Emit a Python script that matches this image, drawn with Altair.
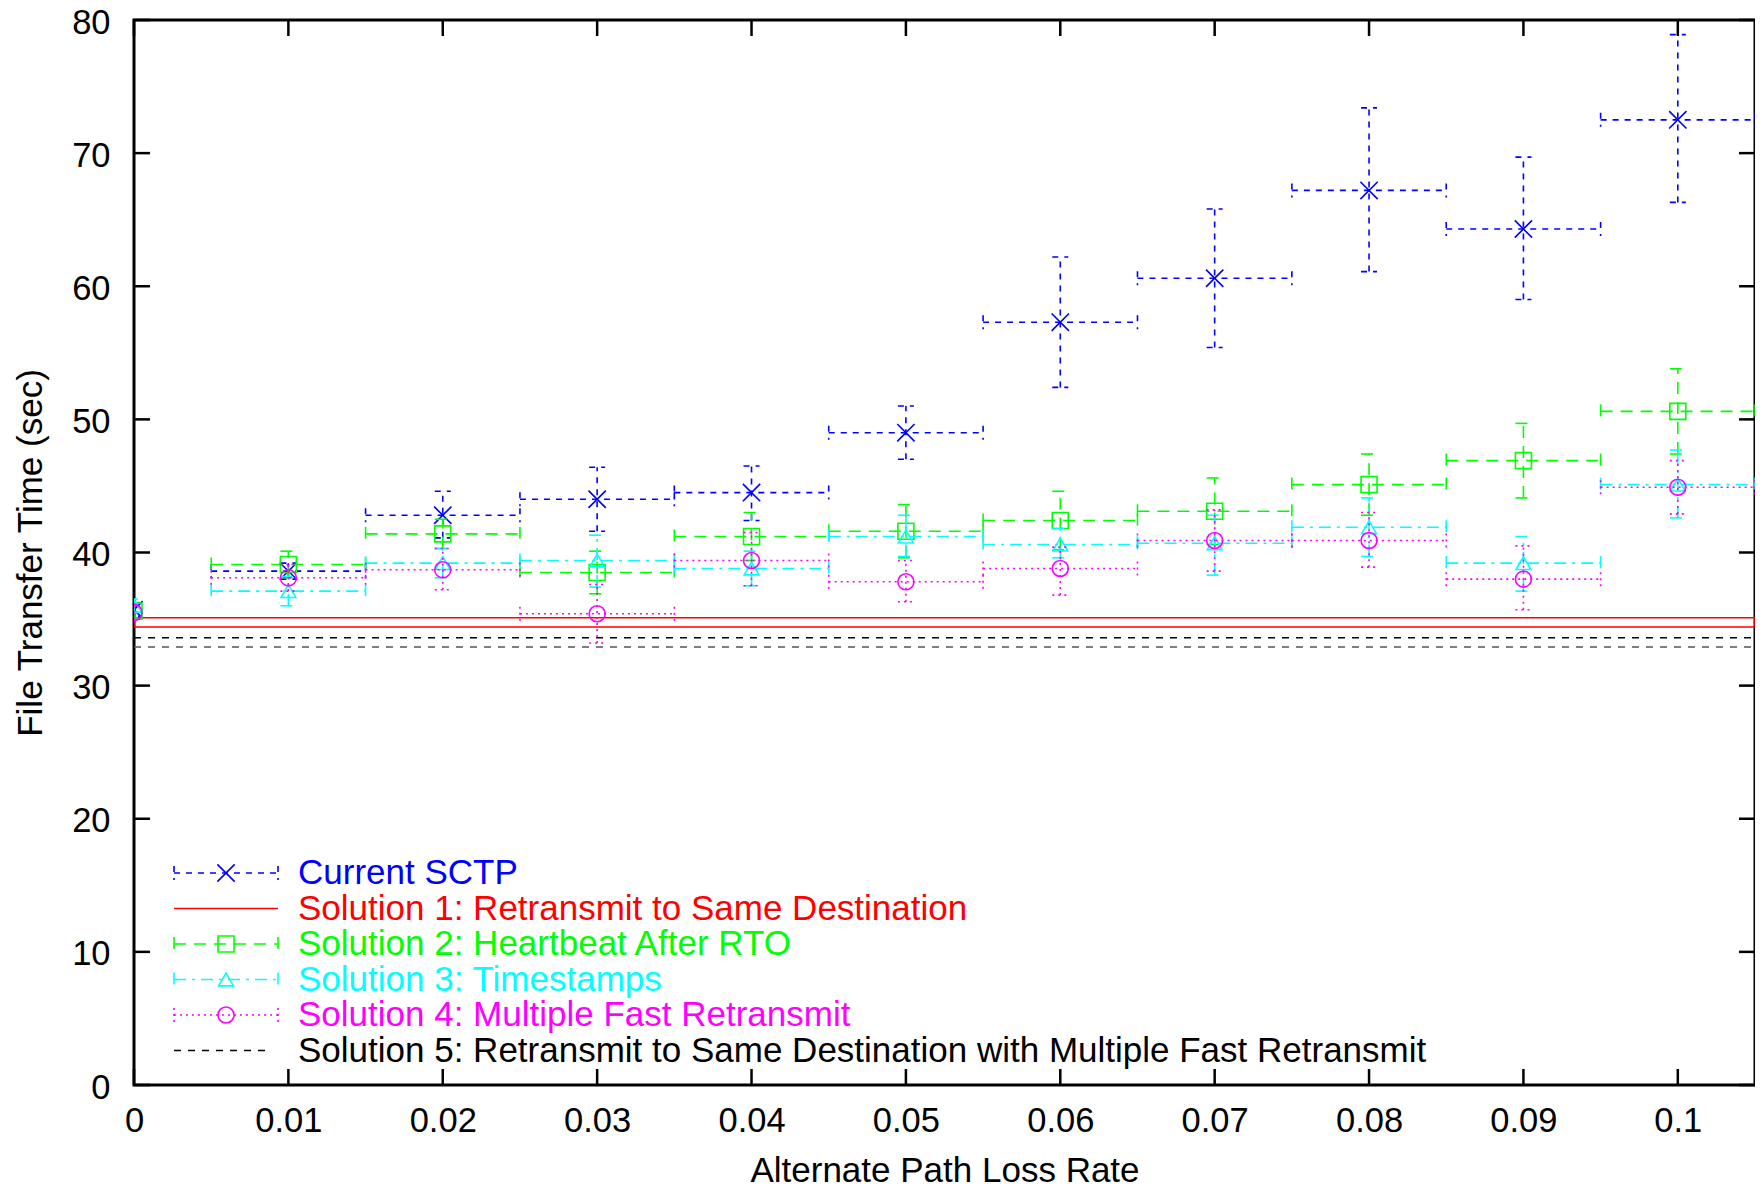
import altair as alt
import pandas as pd

# ---------------- data ----------------
loss_rate = [0.0, 0.01, 0.02, 0.03, 0.04, 0.05, 0.06, 0.07, 0.08, 0.09, 0.10]
x_half_width = 0.005

cur_y  = [35.7, 38.6, 42.8, 44.0, 44.5, 49.0, 57.3, 60.6, 67.2, 64.3, 72.5]
cur_lo = [35.2, 38.0, 41.1, 41.6, 42.4, 47.0, 52.4, 55.4, 61.1, 59.0, 66.3]
cur_hi = [36.2, 39.2, 44.6, 46.4, 46.5, 51.0, 62.2, 65.8, 73.4, 69.7, 78.9]

s2_y  = [35.6, 39.1, 41.4, 38.5, 41.2, 41.6, 42.4, 43.1, 45.1, 46.9, 50.6]
s2_lo = [35.1, 38.1, 40.3, 36.9, 39.4, 39.6, 40.2, 40.6, 42.8, 44.1, 47.4]
s2_hi = [36.1, 40.1, 42.5, 40.1, 43.0, 43.6, 44.6, 45.6, 47.4, 49.7, 53.8]

s3_y  = [36.0, 37.1, 39.2, 39.4, 38.8, 41.2, 40.6, 40.7, 41.9, 39.2, 45.1]
s3_lo = [35.5, 36.0, 38.1, 37.4, 37.5, 39.7, 39.6, 38.3, 39.7, 37.1, 42.6]
s3_hi = [36.5, 38.2, 40.3, 41.3, 40.1, 42.8, 41.8, 42.8, 44.1, 41.2, 47.7]

s4_y  = [35.5, 38.1, 38.7, 35.4, 39.4, 37.8, 38.8, 40.9, 40.9, 38.0, 44.9]
s4_lo = [35.0, 37.1, 37.2, 33.2, 37.5, 36.3, 36.8, 38.6, 38.9, 35.7, 42.9]
s4_hi = [36.0, 39.1, 40.3, 37.6, 41.5, 39.4, 40.4, 43.2, 43.0, 40.5, 46.9]

s1_band = [34.4, 35.1]       # Solution 1 (band)
s5_lines = [33.6, 32.9]      # Solution 5 (two dashed lines)

x_ticks = [0.0, 0.01, 0.02, 0.03, 0.04, 0.05, 0.06, 0.07, 0.08, 0.09, 0.1]
y_ticks = [0, 10, 20, 30, 40, 50, 60, 70, 80]
x_max = 0.105

labels = [
    "Current SCTP",
    "Solution 1: Retransmit to Same Destination",
    "Solution 2: Heartbeat After RTO",
    "Solution 3: Timestamps",
    "Solution 4: Multiple Fast Retransmit",
    "Solution 5: Retransmit to Same Destination with Multiple Fast Retransmit",
]
colors = ["#0000ff", "#ff0000", "#00ff00", "#00ffff", "#ff00ff", "#000000"]

# ---------------- layout ----------------
W, H = 1621, 1065
FONT = "Liberation Sans"
FS_TICK = 34.5
FS_TEXT = 35
LW = 1.6

xs = alt.Scale(domain=[0, x_max], nice=False, zero=False)
ys = alt.Scale(domain=[0, 80], nice=False, zero=False)
xaxis = alt.Axis(title="Alternate Path Loss Rate", values=x_ticks, format="~g",
                 ticks=False, domain=False, grid=False, labelFont=FONT, labelFontSize=FS_TICK,
                 labelColor="black", labelPadding=19, titleFont=FONT, titleFontSize=FS_TEXT,
                 titleFontWeight="normal", titleColor="black", titleX=W / 2, titleY=85,
                 titleBaseline="middle", titleAlign="center", labelFlush=False)
yaxis = alt.Axis(title="File Transfer Time (sec)", values=y_ticks, ticks=False, domain=False,
                 grid=False, labelFont=FONT, labelFontSize=FS_TICK, labelColor="black",
                 labelPadding=24, labelOffset=3, titleFont=FONT, titleFontSize=FS_TEXT,
                 titleFontWeight="normal", titleColor="black", titleX=-104, titleY=H / 2,
                 titleAngle=-90, titleBaseline="middle", titleAlign="center", labelFlush=False)


def X(f):
    return alt.X(f, type="quantitative", scale=xs, axis=xaxis)


def Y(f):
    return alt.Y(f, type="quantitative", scale=ys, axis=yaxis)


legend_y0 = 853
legend_dy = 35.5
cross_path = "M-1,-1L1,1M1,-1L-1,1"


def series_layers(ys_, lo, hi, color, dash, shape, size, row):
    df = pd.DataFrame({
        "x": loss_rate,
        "y": ys_,
        "ylo": lo,
        "yhi": hi,
        "xlo": [v - x_half_width if v > 0 else v for v in loss_rate],
        "xhi": [min(v + x_half_width, x_max) if v > 0 else v for v in loss_rate],
    })
    base = alt.Chart(df)
    hb = base.transform_filter("datum.x > 0")
    kw = dict(color=color, strokeWidth=LW, strokeDash=dash, clip=True)
    layers = [
        hb.mark_rule(**kw).encode(x=X("xlo"), x2=alt.X2("xhi"), y=Y("y")),
        hb.mark_rule(yOffset=-7, y2Offset=7, **kw).encode(
            x=X("xlo"), x2=alt.X2("xlo"), y=Y("y"), y2=alt.Y2("y")),
        hb.mark_rule(yOffset=-7, y2Offset=7, **kw).encode(
            x=X("xhi"), x2=alt.X2("xhi"), y=Y("y"), y2=alt.Y2("y")),
        base.mark_rule(**kw).encode(x=X("x"), y=Y("ylo"), y2=alt.Y2("yhi")),
        base.mark_rule(xOffset=-8, x2Offset=8, **kw).encode(
            x=X("x"), x2=alt.X2("x"), y=Y("ylo"), y2=alt.Y2("ylo")),
        base.mark_rule(xOffset=-8, x2Offset=8, **kw).encode(
            x=X("x"), x2=alt.X2("x"), y=Y("yhi"), y2=alt.Y2("yhi")),
        base.mark_point(shape=shape, size=size, filled=False, color=color,
                        strokeWidth=LW, opacity=1, clip=True).encode(x=X("x"), y=Y("y")),
    ]
    # legend sample
    ldf = pd.DataFrame({"ry": [legend_y0 + row * legend_dy]})
    lb = alt.Chart(ldf)
    lkw = dict(color=color, strokeWidth=LW, strokeDash=dash)
    ry = alt.Y("ry:Q", scale=None, axis=None)
    layers += [
        lb.mark_rule(**lkw).encode(x=alt.value(40), x2=alt.value(144), y=ry),
        lb.mark_rule(yOffset=-7, y2Offset=7, **lkw).encode(
            x=alt.value(40), x2=alt.value(40), y=ry, y2=alt.Y2("ry")),
        lb.mark_rule(yOffset=-7, y2Offset=7, **lkw).encode(
            x=alt.value(144), x2=alt.value(144), y=ry, y2=alt.Y2("ry")),
        lb.mark_point(shape=shape, size=size, filled=False, color=color, strokeWidth=LW,
                      opacity=1).encode(x=alt.value(92), y=ry),
    ]
    return layers


layers = []

# ticks (inward, mirrored) from tick arrays
ytdf = pd.DataFrame({"t": y_ticks})
xtdf = pd.DataFrame({"t": x_ticks})
tk = dict(color="black", strokeWidth=2.5)
layers += [
    alt.Chart(ytdf).mark_rule(**tk).encode(x=alt.value(0), x2=alt.value(16), y=Y("t")),
    alt.Chart(ytdf).mark_rule(**tk).encode(x=alt.value(W - 16), x2=alt.value(W), y=Y("t")),
    alt.Chart(xtdf).mark_rule(**tk).encode(x=X("t"), y=alt.value(H), y2=alt.value(H - 16)),
    alt.Chart(xtdf).mark_rule(**tk).encode(x=X("t"), y=alt.value(0), y2=alt.value(16)),
]

# Current SCTP
layers += series_layers(cur_y, cur_lo, cur_hi, colors[0], [6, 6], cross_path, 300, 0)

# Solution 1 band
s1df = pd.DataFrame({"x0": [0.0], "x1": [x_max], "lo": [s1_band[0]], "hi": [s1_band[1]]})
layers += [
    alt.Chart(s1df).mark_rect(fill=None, fillOpacity=0, stroke=colors[1], strokeWidth=LW,
                              clip=True).encode(
        x=X("x0"), x2=alt.X2("x1"), y=Y("lo"), y2=alt.Y2("hi")),
    alt.Chart(pd.DataFrame({"ry": [legend_y0 + legend_dy]})).mark_rule(
        color=colors[1], strokeWidth=LW).encode(
        x=alt.value(40), x2=alt.value(144), y=alt.Y("ry:Q", scale=None, axis=None)),
]

layers += series_layers(s2_y, s2_lo, s2_hi, colors[2], [12, 8], "square", 256, 2)
layers += series_layers(s3_y, s3_lo, s3_hi, colors[3], [12, 6, 3, 6], "triangle-up", 220, 3)
layers += series_layers(s4_y, s4_lo, s4_hi, colors[4], [2, 4], "circle", 256, 4)

# Solution 5: two dashed lines
s5df = pd.DataFrame({"x0": [0.0, 0.0], "x1": [x_max, x_max], "v": s5_lines,
                     "shade": ["#000000", "#555555"]})
layers += [
    alt.Chart(s5df).mark_rule(strokeWidth=LW, strokeDash=[7, 7], clip=True).encode(
        x=X("x0"), x2=alt.X2("x1"), y=Y("v"),
        color=alt.Color("shade:N", scale=None, legend=None)),
    alt.Chart(pd.DataFrame({"ry": [legend_y0 + 5 * legend_dy]})).mark_rule(
        color="black", strokeWidth=LW, strokeDash=[7, 7]).encode(
        x=alt.value(40), x2=alt.value(136), y=alt.Y("ry:Q", scale=None, axis=None)),
]

# legend text
tdf = pd.DataFrame({"label": labels, "col": colors,
                    "ry": [legend_y0 + i * legend_dy for i in range(len(labels))]})
layers.append(
    alt.Chart(tdf).mark_text(align="left", baseline="middle", font=FONT,
                             fontSize=FS_TEXT).encode(
        x=alt.value(164), y=alt.Y("ry:Q", scale=None, axis=None), text="label:N",
        color=alt.Color("col:N", scale=None, legend=None))
)

chart = alt.layer(*layers).properties(
    width=W, height=H,
    autosize=alt.AutoSizeParams(type="none"),
    padding={"left": 126, "top": 12, "right": 0, "bottom": 100},
    background="white",
).configure_view(stroke="black", strokeWidth=3)

chart.save("out.html", embed_options={"renderer": "svg", "actions": False})
